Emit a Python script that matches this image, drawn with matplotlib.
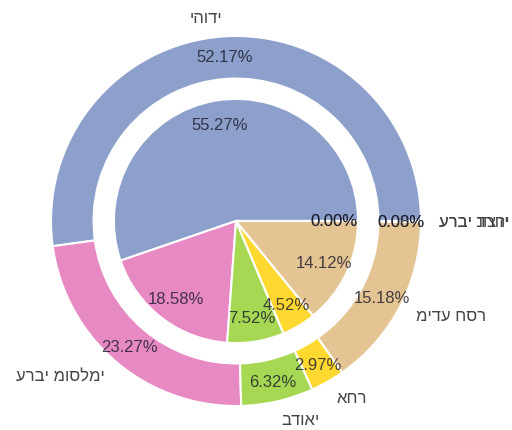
import matplotlib
matplotlib.use('Agg')
import matplotlib.pyplot as plt

plt.rcParams['font.family'] = ['Liberation Sans', 'DejaVu Sans']

# outer ring
outer_labels = ['יהודי', 'ערבי מוסלמי', 'בדואי', 'אחר', 'מידע חסר', 'ערבי נוצרי', 'ערבי דרוזי']
outer_vals = [52.17, 23.27, 6.32, 2.97, 15.18, 0.08, 0.00]
# inner pie
inner_vals = [55.27, 18.58, 7.52, 4.52, 14.12, 0.00, 0.00]

colors = ['#8da0cb', '#e78ac3', '#a6d854', '#ffd92f', '#e5c494', '#b3b3b3', '#66c2a5']

fig = plt.figure(figsize=(5.12, 4.31), dpi=100)
ax = fig.add_axes([0, 0, 1, 1])

out_fmt = iter(outer_vals)
wedges, texts, auto = ax.pie(outer_vals, labels=outer_labels, colors=colors, startangle=0,
                             radius=1.0, labeldistance=1.1, pctdistance=0.89,
                             autopct=lambda p: '%.2f%%' % next(out_fmt),
                             wedgeprops=dict(width=0.23, edgecolor='white', linewidth=1.5),
                             textprops=dict(fontsize=12))
for t in texts:
    t.set_color('#444444')
for t in auto:
    t.set_color('#1a1a2a')
    t.set_alpha(0.8)

in_fmt = iter(inner_vals)
w2, t2, auto2 = ax.pie(inner_vals, colors=colors, startangle=0, radius=0.66,
                       pctdistance=0.8, autopct=lambda p: '%.2f%%' % next(in_fmt),
                       wedgeprops=dict(edgecolor='white', linewidth=1.5),
                       textprops=dict(fontsize=12))
for t in auto2:
    t.set_color('#1a1a2a')
    t.set_alpha(0.8)

s = 185.0
ax.set_xlim(-236 / s, (512 - 236) / s)
ax.set_ylim(-(431 - 222) / s, 222 / s)
ax.set_aspect('auto')
ax.axis('off')

fig.savefig('out.png', dpi=100, facecolor='white')
